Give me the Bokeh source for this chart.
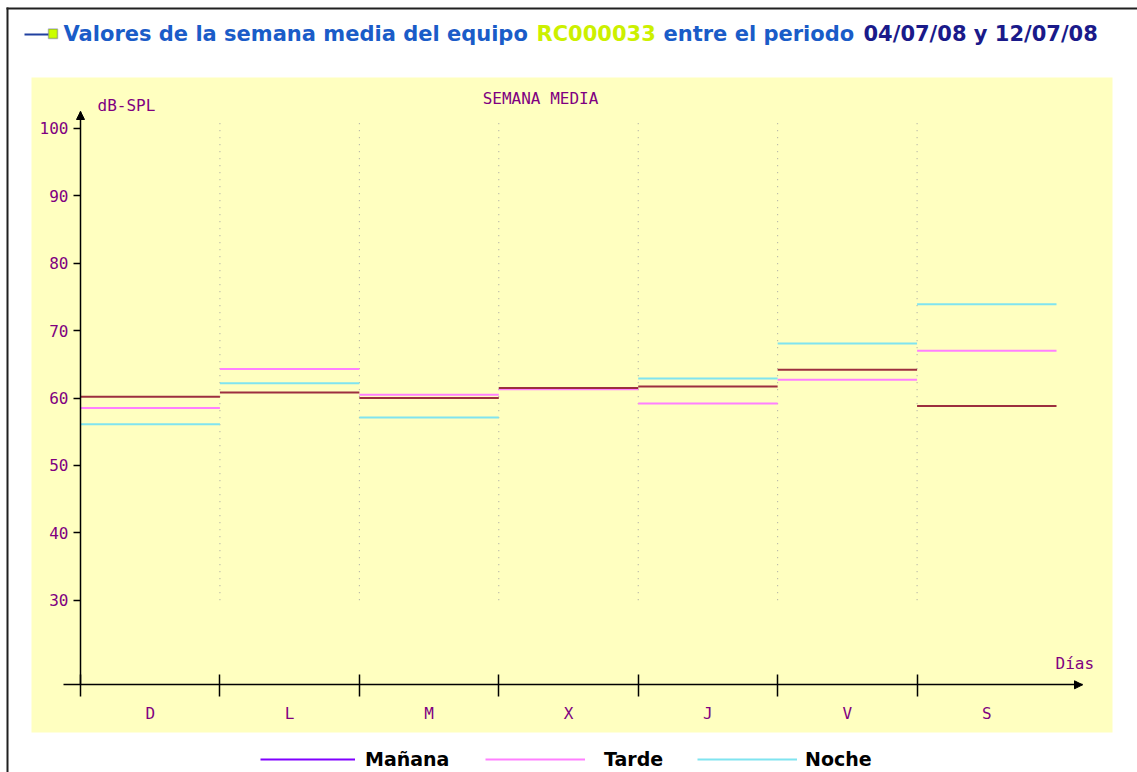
from bokeh.plotting import figure
from bokeh.models import (Range1d, LinearAxis, FixedTicker, Label, BoxAnnotation,
                          Arrow, NormalHead, Legend, LegendItem, ColumnDataSource)
from bokeh.embed import file_html
from bokeh.resources import INLINE

# ---------------- data ----------------
days = ["D", "L", "M", "X", "J", "V", "S"]
manana = [60.2, 60.8, 60.0, 61.5, 61.7, 64.2, 58.8]
tarde = [58.5, 64.3, 60.5, 61.3, 59.2, 62.7, 67.0]
noche = [56.1, 62.2, 57.1, 61.5, 62.9, 68.1, 73.9]
y_ticks = [30, 40, 50, 60, 70, 80, 90, 100]
series_names = ["Mañana", "Tarde", "Noche"]
title_parts = ["Valores de la semana media del equipo ", "RC000033",
               " entre el periodo ", "04/07/08 y 12/07/08"]

# ---------------- layout constants (page pixels) ----------------
W, H = 1137, 772
X0_PX, DAY_PX = 80.0, 139.43
Y60_PX, UNIT_PX = 397.5, 6.74


def px_x(px):
    return (px - X0_PX) / DAY_PX


def px_y(py):
    return 60.0 + (Y60_PX - py) / UNIT_PX


PURPLE = "#800080"
C_MAN, C_TAR, C_NOC = "#9c2f3f", "#ff80ff", "#80e4f0"
C_MAN_LEG = "#8000ff"
MONO = "DejaVu Sans Mono"

AXIS_BASE = px_y(684.3)     # where the x axis crosses
Y_TOP = px_y(111)           # tip of the y arrow
X_LEFT = px_x(63)
X_TIP = px_x(1082)

p = figure(width=W, height=H,
           x_range=Range1d(px_x(0), px_x(W)),
           y_range=Range1d(px_y(H), px_y(0)),
           x_axis_type=None, y_axis_type=None,
           output_backend="svg", toolbar_location=None,
           min_border=0, background_fill_color="white",
           border_fill_color="white", outline_line_color=None)

# yellow panel
p.add_layout(BoxAnnotation(left=px_x(31), right=px_x(1112), top=px_y(77), bottom=px_y(732),
                           fill_color="#ffffc0", fill_alpha=1, line_color=None,
                           level="underlay"))
# page frame (left and top edges)
p.add_layout(BoxAnnotation(left=px_x(6), right=px_x(8), top=px_y(7), bottom=px_y(H + 50),
                           fill_color="#202020", fill_alpha=1, line_color=None))
p.add_layout(BoxAnnotation(left=px_x(6), right=px_x(W + 50), top=px_y(7), bottom=px_y(9),
                           fill_color="#202020", fill_alpha=1, line_color=None))

# title icon
p.add_layout(BoxAnnotation(left=px_x(24), right=px_x(48), top=px_y(33), bottom=px_y(35),
                           fill_color="#2040a0", fill_alpha=1, line_color=None))
p.add_layout(BoxAnnotation(left=px_x(48), right=px_x(57), top=px_y(28.5), bottom=px_y(38),
                           fill_color="#ccff00", fill_alpha=1, line_color="#1a1a80",
                           line_width=1.5))

# title
title_x = [63, 536, 663, 863]
title_c = ["#1a5cc8", "#ccf000", "#1a5cc8", "#1a1a8a"]
for t, xp, c in zip(title_parts, title_x, title_c):
    p.add_layout(Label(x=px_x(xp), y=px_y(33), text=t.strip(), text_color=c,
                       text_font="DejaVu Sans", text_font_style="bold",
                       text_font_size="21px", text_baseline="middle", text_align="left"))

# vertical dotted separators
bounds = list(range(1, len(days)))
p.segment(x0=bounds, x1=bounds, y0=[y_ticks[0]] * len(bounds), y1=[px_y(120)] * len(bounds),
          line_color="#a0a0a0", line_width=1, line_dash="1 6")

# data
idx = list(range(len(days)))
src = ColumnDataSource(dict(x0=idx, x1=[i + 1 for i in idx],
                            manana=manana, tarde=tarde, noche=noche))
r_noc = p.segment(x0="x0", x1="x1", y0="noche", y1="noche", source=src,
                  line_color=C_NOC, line_width=2)
r_tar = p.segment(x0="x0", x1="x1", y0="tarde", y1="tarde", source=src,
                  line_color=C_TAR, line_width=2)
r_man = p.segment(x0="x0", x1="x1", y0="manana", y1="manana", source=src,
                  line_color=C_MAN, line_width=2)
r_man_leg = p.line(x=[float("nan")], y=[float("nan")], line_color=C_MAN_LEG, line_width=2)

# y axis
yaxis = LinearAxis(ticker=FixedTicker(ticks=y_ticks), fixed_location=0,
                   bounds=(AXIS_BASE, Y_TOP),
                   axis_line_color="black", axis_line_width=1.5,
                   major_tick_in=0, major_tick_out=7, major_tick_line_width=1.5,
                   minor_tick_out=0, minor_tick_in=0,
                   major_label_standoff=5,
                   major_label_text_font=MONO, major_label_text_font_size="16px",
                   major_label_text_color=PURPLE)
p.add_layout(yaxis, "left")

# x axis (day boundaries)
xaxis = LinearAxis(ticker=FixedTicker(ticks=idx), fixed_location=AXIS_BASE,
                   bounds=(X_LEFT, X_TIP),
                   axis_line_color="black", axis_line_width=1.5,
                   major_tick_in=10, major_tick_out=12, major_tick_line_width=1.5,
                   minor_tick_out=0, minor_tick_in=0,
                   major_label_overrides={i: "" for i in idx},
                   major_label_text_font_size="1px")
p.add_layout(xaxis, "below")

# x axis (day names at centres)
centres = [i + 0.5 for i in idx]
daxis = LinearAxis(ticker=FixedTicker(ticks=centres), fixed_location=AXIS_BASE,
                   axis_line_color=None, major_tick_line_color=None,
                   major_tick_in=0, major_tick_out=0, minor_tick_out=0, minor_tick_in=0,
                   major_label_standoff=19,
                   major_label_overrides={c: d for c, d in zip(centres, days)},
                   major_label_text_font=MONO, major_label_text_font_size="16px",
                   major_label_text_color=PURPLE)
p.add_layout(daxis, "below")

# arrow heads
p.add_layout(Arrow(x_start=X_TIP - 0.05, y_start=AXIS_BASE, x_end=X_TIP, y_end=AXIS_BASE,
                   line_color="black", line_width=1.5,
                   end=NormalHead(size=8, fill_color="black", line_color="black", line_width=1)))
p.add_layout(Arrow(x_start=0, y_start=Y_TOP - 1, x_end=0, y_end=Y_TOP,
                   line_color="black", line_width=1.5,
                   end=NormalHead(size=8, fill_color="black", line_color="black", line_width=1)))

# chart texts
p.add_layout(Label(x=px_x(540), y=px_y(97.5), text="SEMANA MEDIA", text_color=PURPLE,
                   text_font=MONO, text_font_size="16px",
                   text_align="center", text_baseline="middle"))
p.add_layout(Label(x=px_x(97), y=px_y(105), text="dB-SPL", text_color=PURPLE,
                   text_font=MONO, text_font_size="16px",
                   text_align="left", text_baseline="middle"))
p.add_layout(Label(x=px_x(1055), y=px_y(663), text="Días", text_color=PURPLE,
                   text_font=MONO, text_font_size="16px",
                   text_align="left", text_baseline="middle"))

# legends
leg_specs = [(series_names[0], r_man_leg, 260, 95, 10),
             (series_names[1], r_tar, 485, 100, 19),
             (series_names[2], r_noc, 697, 100, 8)]
for name, rend, lx, gw, so in leg_specs:
    lg = Legend(items=[LegendItem(label=name, renderers=[rend])],
                location=(lx, 2), orientation="horizontal",
                padding=0, margin=0, spacing=0,
                glyph_width=gw, glyph_height=20, label_standoff=so,
                label_text_font="DejaVu Sans", label_text_font_style="bold",
                label_text_font_size="19px", label_text_color="black",
                border_line_color=None, background_fill_alpha=0)
    p.add_layout(lg)

open("out.html", "w").write(file_html(p, INLINE))
